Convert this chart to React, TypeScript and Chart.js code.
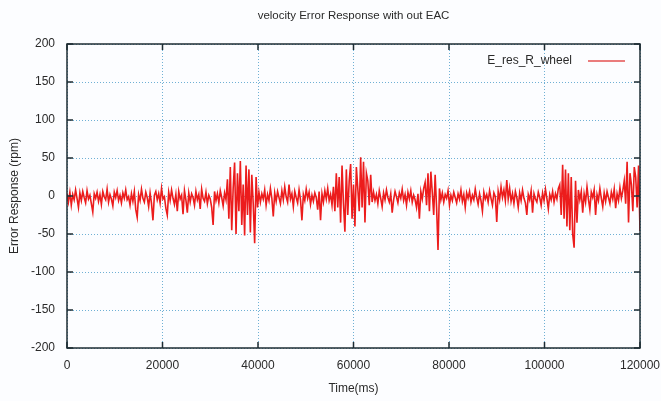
import { useEffect, useRef } from "react";
import { Chart, registerables } from "chart.js";

Chart.register(...registerables);

const TITLE = "velocity Error Response with out EAC";
const SERIES_LABEL = "E_res_R_wheel";
const X_TITLE = "Time(ms)";
const Y_TITLE = "Error Response (rpm)";

const xTicks = [0, 20000, 40000, 60000, 80000, 100000, 120000];
const yTicks = [-200, -150, -100, -50, 0, 50, 100, 150, 200];

// sampling interval of the recorded signal (ms)
const SAMPLE_STEP_MS = 300;

// velocity error response (rpm), one value per sample
const errorRpm = [
  3, -8, 5, -12, 2, -5, 8, -3, -15, 4,
  -6, 6, -2, -9, 7, -4, 1, -10, -21, 3,
  -3, 5, -7, 2, -11, 6, -1, -5, 9, -8,
  2, -4, -13, 5, -2, 7, -6, 1, -9, 4,
  -3, 8, -5, -1, -12, 3, -7, 6, -18, -28,
  2, -6, 9, -3, -8, 5, -2, -14, 4, -10,
  -32, 1, 6, -5, 3, -9, 10, -4, -1, -16,
  -25, 5, -6, 8, -3, -11, 2, -20, 6, -4,
  1, -24, 7, -5, -22, 4, -8, 3, -2, -12,
  6, -5, 2, -17, 9, -3, -7, 5, -10, 1,
  -4, -15, -38, 6, -6, 3, -9, 7, -2, -13, 4, -5,
  22, -30, 38, -45, 10, 44, -50, 30, -20, 46, -38, 15, -52, 40, -25, 35, -48, 28, -10, -62, 25, -15,
  5, -8, 3, -4, 8, -12, 2, -6, 10, -3,
  -27, 4, -7, 6, -2, -10, 7, -5, 12, -1,
  -8, 15, -4, 3, -14, 6, -2, -9, 8, -5,
  -32, 2, -6, 9, -3, 5, -11, 1, -7, 4,
  -2, -18, 6, -32, 3, -8, 7, -4, 10, -6, 2, -12,
  12, -20, 30, -15, 25, -35, 40, -10, -47, 35, -25, 20, 42, -30,
  15, -40, 38, 10, -20, 51, -15, 45, -35, 30, 20, -12, 28, -8,
  5, -6, 2, -10, 7, -3, -14, 4, -5, 8,
  -2, -8, 3, -22, -5, 6, -1, -9, 4, -3,
  9, -6, 2, -12, 5, -4, 7, -8, 1, -5,
  -15, 3, -30, 6, -4, 10,
  18, -12, 30, -20, 32, 5, -25, 28, -15, -71, 10,
  -5, 4, -8, 2, -3, 7, -12, 1, -6, 5,
  -2, -9, 3, -4, 8, -7, 2, -15, 4, -3,
  6, -8, 1, -5, 9, -2, -11, 3, -6, -20,
  5, -4, 2, -8, 7, -3, -12, 4, -1, -34,
  6, -5, 12, -2, 8, -6, 21, -4, 10, -7,
  3, -10, 6, -2, -15, 4, -6, 8, -3, -9,
  -25, 2, -5, 7, -22, 3, -4, -8, 5, -2,
  -12, 4, -6, 9, -3, -17, 2, -5, 6, -8, 3, -4, 10,
  15, -25, 41, -30, 35, -40, 30, -45, 25, -50, -68, 20, -35, 8,
  -5, 6, -22, 3, -8, 12, -4, -18, 5, -2,
  8, -25, 2, -6, 10, -3, -14, 4, -7, 6,
  -2, -10, 5, -4, 9, -16, 3, -6, 11, -3, 7,
  20, -10, 45, -35, 30, 15, -20, 38, 25, -15, 40, -46,
];

const LINE_COLOR = "#ec1c1c";
const LEGEND_LINE_COLOR = "#e45050";
const FRAME_COLOR = "#1e2c33";
const GRID_COLOR = "#6fb0d4";
const TEXT_COLOR = "#2a2a2a";
const FONT_FAMILY = '"Liberation Sans", Arial, sans-serif';

const framePlugin = {
  id: "gnuFrame",
  afterDatasetsDraw(chart: any) {
    const { ctx, chartArea, scales } = chart;
    const { left, right, top, bottom } = chartArea;
    ctx.save();
    // legend
    ctx.fillStyle = TEXT_COLOR;
    ctx.font = `12px ${FONT_FAMILY}`;
    ctx.textAlign = "right";
    ctx.textBaseline = "middle";
    ctx.fillText(SERIES_LABEL, right - 68, top + 17);
    ctx.strokeStyle = LEGEND_LINE_COLOR;
    ctx.lineWidth = 1.5;
    ctx.beginPath();
    ctx.moveTo(right - 52, top + 17);
    ctx.lineTo(right - 15, top + 17);
    ctx.stroke();
    // frame
    ctx.strokeStyle = FRAME_COLOR;
    ctx.lineWidth = 1.5;
    ctx.strokeRect(left, top, right - left, bottom - top);
    // inward ticks
    ctx.beginPath();
    for (const v of yTicks) {
      const y = scales.y.getPixelForValue(v);
      ctx.moveTo(left, y);
      ctx.lineTo(left + 6, y);
      ctx.moveTo(right, y);
      ctx.lineTo(right - 6, y);
    }
    for (const v of xTicks) {
      const x = scales.x.getPixelForValue(v);
      ctx.moveTo(x, bottom);
      ctx.lineTo(x, bottom - 6);
      ctx.moveTo(x, top);
      ctx.lineTo(x, top + 6);
    }
    ctx.stroke();
    // title
    ctx.fillStyle = TEXT_COLOR;
    ctx.font = `11.5px ${FONT_FAMILY}`;
    ctx.textAlign = "center";
    ctx.fillText(TITLE, (left + right) / 2, 16);
    ctx.restore();
  },
};

export default function App() {
  const canvasRef = useRef<HTMLCanvasElement | null>(null);

  useEffect(() => {
    const canvas = canvasRef.current;
    if (!canvas) return;
    const points = errorRpm.map((v, i) => ({ x: i * SAMPLE_STEP_MS, y: v }));
    const chart = new Chart(canvas, {
      type: "line",
      data: {
        datasets: [
          {
            label: SERIES_LABEL,
            data: points,
            borderColor: LINE_COLOR,
            backgroundColor: LINE_COLOR,
            borderWidth: 1.6,
            pointRadius: 0,
            tension: 0,
            fill: false,
          },
        ],
      },
      options: {
        responsive: false,
        animation: false,
        devicePixelRatio: 1,
        layout: { padding: { left: 0, right: 21, top: 44, bottom: 0 } },
        plugins: {
          legend: { display: false },
          title: { display: false },
          tooltip: { enabled: false },
        },
        scales: {
          x: {
            type: "linear",
            min: xTicks[0],
            max: xTicks[xTicks.length - 1],
            afterBuildTicks: (axis: any) => {
              axis.ticks = xTicks.map((v) => ({ value: v }));
            },
            afterFit: (axis: any) => {
              axis.height = 53;
              axis.paddingLeft = 0;
              axis.paddingRight = 0;
            },
            ticks: {
              color: TEXT_COLOR,
              font: { family: FONT_FAMILY, size: 12 },
              padding: 10,
              maxRotation: 0,
              autoSkip: false,
              callback: (v: any) => String(v),
            },
            grid: {
              color: GRID_COLOR,
              lineWidth: 1,
              drawTicks: false,
            },
            border: { display: false, dash: [1, 2] },
            title: {
              display: true,
              text: X_TITLE,
              color: TEXT_COLOR,
              font: { family: FONT_FAMILY, size: 12 },
              padding: 5,
            },
          },
          y: {
            type: "linear",
            min: yTicks[0],
            max: yTicks[yTicks.length - 1],
            afterBuildTicks: (axis: any) => {
              axis.ticks = yTicks.map((v) => ({ value: v }));
            },
            afterFit: (axis: any) => {
              axis.width = 67;
              axis.paddingTop = 0;
              axis.paddingBottom = 0;
            },
            ticks: {
              color: TEXT_COLOR,
              font: { family: FONT_FAMILY, size: 12 },
              padding: 12,
              autoSkip: false,
              callback: (v: any) => String(v),
            },
            grid: {
              color: GRID_COLOR,
              lineWidth: 1,
              drawTicks: false,
            },
            border: { display: false, dash: [1, 2] },
            title: {
              display: true,
              text: Y_TITLE,
              color: TEXT_COLOR,
              font: { family: FONT_FAMILY, size: 12 },
              padding: 7,
            },
          },
        },
      },
      plugins: [framePlugin],
    });
    return () => chart.destroy();
  }, []);

  return (
    <div
      style={{
        position: "absolute",
        left: 0,
        top: 0,
        width: 661,
        height: 401,
        background: "#fcfdff",
      }}
    >
      <canvas ref={canvasRef} width={661} height={401} style={{ display: "block" }} />
    </div>
  );
}
